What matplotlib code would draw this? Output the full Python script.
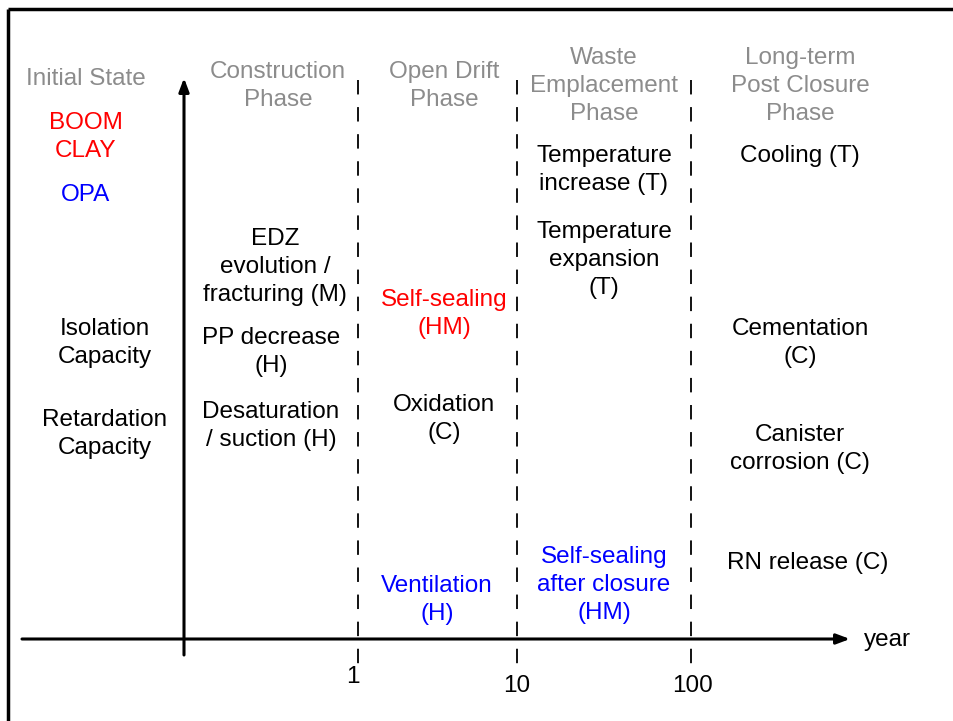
import matplotlib
matplotlib.use("Agg")
import matplotlib.pyplot as plt

plt.rcParams['font.family'] = ['Liberation Sans', 'DejaVu Sans']

# ---- content ----
phase_labels = ["Initial State", "Construction\nPhase", "Open Drift\nPhase",
                "Waste\nEmplacement\nPhase", "Long-term\nPost Closure\nPhase"]
tick_labels = ["1", "10", "100"]
axis_label = "year"

# (text, colour key)
items_initial = [("BOOM\nCLAY", "red"), ("OPA", "blue"),
                 ("Isolation\nCapacity", "black"), ("Retardation\nCapacity", "black")]
items_construction = [("EDZ\nevolution /\nfracturing (M)", "black"),
                      ("PP decrease\n(H)", "black"),
                      ("Desaturation\n/ suction (H)", "black")]
items_open = [("Self-sealing\n(HM)", "red"), ("Oxidation\n(C)", "black"),
              ("Ventilation\n(H)", "blue")]
items_waste = [("Temperature\nincrease (T)", "black"),
               ("Temperature\nexpansion\n(T)", "black"),
               ("Self-sealing\nafter closure\n(HM)", "blue")]
items_long = [("Cooling (T)", "black"), ("Cementation\n(C)", "black"),
              ("Canister\ncorrosion (C)", "black"), ("RN release (C)", "black")]

# ---- layout (pixel-like canvas coordinates) ----
phase_pos = [(86, 77), (278, 84), (444, 84), (604, 84), (800, 84)]
initial_pos = [(86, 135), (86, 193), (105, 341), (105, 432)]
construction_pos = [(275, 265), (271, 350), (271, 424)]
open_pos = [(444, 312), (444, 417), (437, 598)]
waste_pos = [(604, 168), (604, 258), (604, 583)]
long_pos = [(800, 154), (800, 341), (800, 447), (808, 561)]
tick_x = [358, 517, 691]
tick_label_pos = [(353, 675), (517, 684), (693, 684)]
dy = 2  # small vertical correction for text baseline

colors = {"red": "#ff0000", "blue": "#0000ff", "black": "#000000"}
gray = "#8c8c8c"
fs = 17.5
ls = 1.37

fig = plt.figure(figsize=(9.54, 7.21), dpi=100)
ax = fig.add_axes([0, 0, 1, 1])
ax.set_xlim(0, 954)
ax.set_ylim(721, 0)
ax.axis("off")

# frame lines (top and left)
ax.plot([8, 954], [9, 9], color="black", lw=2.5, solid_capstyle="butt")
ax.plot([8, 8], [9, 721], color="black", lw=2.5, solid_capstyle="butt")

# axes arrows
ax.annotate("", xy=(850, 639), xytext=(22, 639),
            arrowprops=dict(arrowstyle="-|>,head_length=0.8,head_width=0.3",
                            lw=2.2, color="black", shrinkA=0, shrinkB=0))
ax.annotate("", xy=(184, 78), xytext=(184, 655),
            arrowprops=dict(arrowstyle="-|>,head_length=0.8,head_width=0.3",
                            lw=2.2, color="black", shrinkA=0, shrinkB=0))

# dashed phase separators
for x in tick_x:
    ax.plot([x, x], [80, 666], color="black", lw=1.3, dashes=(8, 7))

# tick labels
for t, (x, y) in zip(tick_labels, tick_label_pos):
    ax.text(x, y + dy, t, ha="center", va="center", fontsize=fs)
ax.text(864, 638 + dy, axis_label, ha="left", va="center", fontsize=fs)

# phase titles
for t, (x, y) in zip(phase_labels, phase_pos):
    ax.text(x, y + dy, t, ha="center", va="center", fontsize=fs, color=gray,
            linespacing=ls)

# process items
for items, poss in [(items_initial, initial_pos), (items_construction, construction_pos),
                    (items_open, open_pos), (items_waste, waste_pos),
                    (items_long, long_pos)]:
    for (t, c), (x, y) in zip(items, poss):
        ax.text(x, y + dy, t, ha="center", va="center", fontsize=fs,
                color=colors[c], linespacing=ls)

fig.savefig("out.png", dpi=100)
